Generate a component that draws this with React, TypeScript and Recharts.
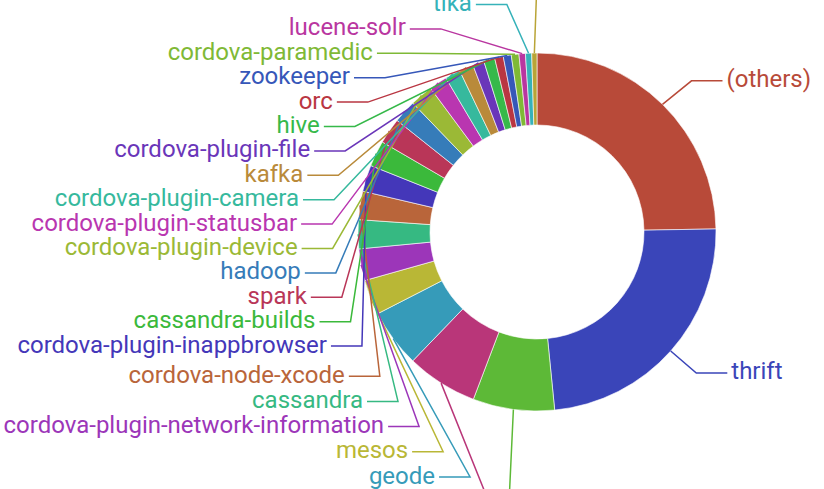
import React from 'react';
import { PieChart, Pie, Cell } from 'recharts';

// repos by share, clockwise from 12 o'clock (largest first)
const repos = [
  '(others)', 'thrift', 'couchdb', 'airflow', 'geode', 'mesos',
  'cordova-plugin-network-information', 'cassandra', 'cordova-node-xcode',
  'cordova-plugin-inappbrowser', 'cassandra-builds', 'spark', 'hadoop',
  'cordova-plugin-device', 'cordova-plugin-statusbar', 'cordova-plugin-camera',
  'kafka', 'cordova-plugin-file', 'hive', 'orc', 'zookeeper',
  'cordova-paramedic', 'lucene-solr', 'tika', 'nifi',
];
const shares = [
  24.72, 23.69, 7.36, 6.42, 5.25, 3.17, 2.86, 2.61, 2.56, 2.39, 2.33, 2.33, 2.08,
  2.06, 1.64, 1.39, 1.28, 1.03, 1.0, 0.78, 0.72, 0.69, 0.58, 0.56, 0.47,
];
const colors = [
  '#b84a39', '#3a45b9', '#5db937', '#b93679', '#369bb9', '#b9b736',
  '#9c36b9', '#36b982', '#b9653a', '#4437b9', '#3bb93b', '#b93658', '#367cb9',
  '#9bb936', '#b936b0', '#36b99d', '#b98a3a', '#6a36b9', '#36b94a', '#b93642',
  '#3657b9', '#7fb936', '#b936a0', '#36b2b9', '#b9a436',
];

const data = repos.map((name, i) => ({ name, value: shares[i] }));

const W = 824;
const H = 489;
const CX = 537;
const CY = 232;
const R_IN = 107;
const R_OUT = 179;

// label layout
const LABEL_R = 212;
const KNEE_A = 205;
const KNEE_B = 230;
const KNEE_K = 0.0023;
const KNEE_BEND = 245;
const SEG = 31;
const GAP = 4;
const SPLIT = CY - 45; // left labels above this stack down from the top, the rest stack up from the bottom
const TOP_Y = -19.9;
const STEP_UP = 24.4;
const BOTTOM_Y = 527.4;
const STEP_DN = 25.2;
const FONT = 24;

const total = shares.reduce((a, b) => a + b, 0);
let acc = 0;
const mids = shares.map((v) => {
  const m = ((acc + v / 2) / total) * 360;
  acc += v;
  return m;
});
const natural = mids.map((m) => CY - LABEL_R * Math.cos((m * Math.PI) / 180));
const labelY = [...natural];
const leftSorted = shares
  .map((_, i) => i)
  .filter((i) => mids[i] >= 180)
  .sort((a, b) => natural[a] - natural[b]);
const upper = leftSorted.filter((i) => natural[i] < SPLIT);
const lower = leftSorted.filter((i) => natural[i] >= SPLIT);
upper.forEach((i, k) => {
  labelY[i] = TOP_Y + k * STEP_UP;
});
lower.forEach((i, k) => {
  labelY[i] = BOTTOM_Y - (lower.length - 1 - k) * STEP_DN;
});

const kneeDx = (dy: number) => {
  if (dy < 0) return KNEE_A * Math.sqrt(Math.max(0, 1 - (dy / KNEE_B) ** 2));
  const d = Math.min(dy, KNEE_BEND);
  const base = KNEE_A - KNEE_K * d * d;
  return Math.max(20, base - 0.75 * Math.max(0, dy - KNEE_BEND));
};

const renderLabel = (props: any) => {
  const { cx, cy, midAngle, outerRadius, index } = props;
  const rad = Math.PI / 180;
  const ex = cx + outerRadius * Math.cos(-midAngle * rad);
  const ey = cy + outerRadius * Math.sin(-midAngle * rad);
  const dir = ex >= cx ? 1 : -1;
  const ly = labelY[index];
  const kx = cx + dir * kneeDx(ly - cy);
  const endX = kx + dir * SEG;
  const color = colors[index];
  return (
    <g key={`lbl-${index}`}>
      <path d={`M${ex},${ey}L${kx},${ly}H${endX}`} stroke={color} strokeWidth={1.5} fill="none" />
      <text
        x={endX + dir * GAP}
        y={ly + 6.5}
        textAnchor={dir > 0 ? 'start' : 'end'}
        fill={color}
        fontSize={FONT}
        fontFamily="Roboto, 'Liberation Sans', sans-serif"
      >
        {repos[index]}
      </text>
    </g>
  );
};

export default function App() {
  return (
    <div style={{ position: 'absolute', left: 0, top: 0, width: W, height: H, overflow: 'hidden', background: '#fff' }}>
      <PieChart width={W} height={H} margin={{ top: 0, right: 0, bottom: 0, left: 0 }}>
        <Pie
          data={data}
          dataKey="value"
          nameKey="name"
          cx={CX}
          cy={CY}
          innerRadius={R_IN}
          outerRadius={R_OUT}
          startAngle={90}
          endAngle={-270}
          stroke="#fff"
          strokeWidth={0.6}
          label={renderLabel}
          labelLine={false}
          isAnimationActive={false}
        >
          {data.map((d, i) => (
            <Cell key={d.name} fill={colors[i]} />
          ))}
        </Pie>
      </PieChart>
    </div>
  );
}
